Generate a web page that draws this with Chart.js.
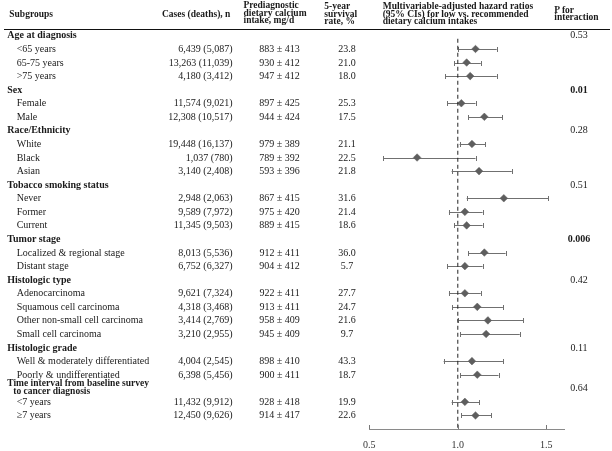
<!DOCTYPE html>
<html>
<head>
<meta charset="utf-8">
<script src="https://cdn.jsdelivr.net/npm/chart.js@4/dist/chart.umd.min.js"></script>
<style>
  html, body { margin: 0; padding: 0; background: #fff; }
  #wrap { position: relative; width: 612px; height: 451px; overflow: hidden;
          font-family: "Liberation Serif", "Times New Roman", serif; color: #1a1a1a; }
  #c { position: absolute; left: 0; top: 0; }
  .t { position: absolute; white-space: nowrap; font-size: 10px; line-height: 12px; }
  .b { font-weight: bold; }
  .h { position: absolute; white-space: nowrap; font-size: 9.5px; line-height: 7.6px; font-weight: bold; }
  #rule { position: absolute; left: 4px; top: 29px; width: 606px; height: 0; border-top: 1px solid #111; }
</style>
</head>
<body>
<div id="wrap">
  <canvas id="c" width="612" height="451"></canvas>
  <div id="rule"></div>
</div>
<script>
// ---- data ----
const subgroups = ["Age at diagnosis","<65 years","65-75 years",">75 years","Sex","Female","Male",
  "Race/Ethnicity","White","Black","Asian","Tobacco smoking status","Never","Former","Current",
  "Tumor stage","Localized & regional stage","Distant stage","Histologic type","Adenocarcinoma",
  "Squamous cell carcinoma","Other non-small cell carcinoma","Small cell carcinoma","Histologic grade",
  "Well & moderately differentiated","Poorly & undifferentiated",
  "Time interval from baseline survey|to cancer diagnosis","<7 years","≥7 years"];
const isGroup = [1,0,0,0,1,0,0,1,0,0,0,1,0,0,0,1,0,0,1,0,0,0,0,1,0,0,1,0,0];
const cases = ["","6,439 (5,087)","13,263 (11,039)","4,180 (3,412)","","11,574 (9,021)","12,308 (10,517)",
  "","19,448 (16,137)","1,037 (780)","3,140 (2,408)","","2,948 (2,063)","9,589 (7,972)","11,345 (9,503)",
  "","8,013 (5,536)","6,752 (6,327)","","9,621 (7,324)","4,318 (3,468)","3,414 (2,769)","3,210 (2,955)",
  "","4,004 (2,545)","6,398 (5,456)","","11,432 (9,912)","12,450 (9,626)"];
const calcium = ["","883 ± 413","930 ± 412","947 ± 412","","897 ± 425","944 ± 424",
  "","979 ± 389","789 ± 392","593 ± 396","","867 ± 415","975 ± 420","889 ± 415",
  "","912 ± 411","904 ± 412","","922 ± 411","913 ± 411","958 ± 409","945 ± 409",
  "","898 ± 410","900 ± 411","","928 ± 418","914 ± 417"];
const survival = ["","23.8","21.0","18.0","","25.3","17.5","","21.1","22.5","21.8","","31.6","21.4","18.6",
  "","36.0","5.7","","27.7","24.7","21.6","9.7","","43.3","18.7","","19.9","22.6"];
const hr   = [null,1.10,1.05,1.07,null,1.02,1.15,null,1.08,0.77,1.12,null,1.26,1.04,1.05,null,1.15,1.04,null,1.04,1.11,1.17,1.16,null,1.08,1.11,null,1.04,1.10];
const ciLo = [null,1.00,0.98,0.93,null,0.94,1.06,null,1.01,0.58,0.965,null,1.05,0.95,0.98,null,1.06,0.94,null,0.95,0.97,1.00,1.015,null,0.92,1.015,null,0.965,1.02];
const ciHi = [null,1.22,1.13,1.22,null,1.10,1.25,null,1.155,1.10,1.305,null,1.51,1.14,1.14,null,1.27,1.14,null,1.13,1.255,1.37,1.35,null,1.255,1.23,null,1.12,1.19];
const pInteraction = ["0.53","","","","0.01","","","0.28","","","","0.51","","","","0.006","","","0.42","","","","","0.11","","","0.64","",""];
const pBold = ["0.01","0.006"];
const xTicks = [0.5, 1.0, 1.5];

// ---- chart ----
const errorBars = {
  id: 'errorBars',
  beforeDatasetsDraw(chart) {
    const {ctx, scales: {x, y}} = chart;
    ctx.save();
    ctx.strokeStyle = '#707070';
    ctx.lineWidth = 1;
    hr.forEach((v, i) => {
      if (v == null) return;
      const py = Math.round(y.getPixelForValue(i)) + 0.5;
      const x1 = x.getPixelForValue(ciLo[i]), x2 = x.getPixelForValue(ciHi[i]);
      ctx.beginPath();
      ctx.moveTo(x1, py); ctx.lineTo(x2, py);
      ctx.moveTo(Math.round(x1) + 0.5, py - 2.5); ctx.lineTo(Math.round(x1) + 0.5, py + 2.5);
      ctx.moveTo(Math.round(x2) + 0.5, py - 2.5); ctx.lineTo(Math.round(x2) + 0.5, py + 2.5);
      ctx.stroke();
    });
    ctx.restore();
  },
  afterDraw(chart) {
    const {ctx, scales: {x}} = chart;
    ctx.save();
    ctx.strokeStyle = '#777';
    ctx.lineWidth = 1;
    xTicks.forEach(v => {
      const px = Math.round(x.getPixelForValue(v)) + 0.5;
      ctx.beginPath();
      ctx.moveTo(px, x.top - 4); ctx.lineTo(px, x.top);
      ctx.stroke();
    });
    ctx.restore();
  }
};

const pts = [];
hr.forEach((v, i) => { if (v != null) pts.push({x: v, y: i}); });

const chart = new Chart(document.getElementById('c'), {
  type: 'scatter',
  data: {
    datasets: [
      { type: 'line', data: [{x: 1, y: 0.25}, {x: 1, y: 29}], borderColor: '#222', borderWidth: 1,
        borderDash: [4, 3], pointRadius: 0, fill: false },
      { data: pts, pointStyle: 'rectRot', pointRadius: 3.8, pointHoverRadius: 3.8,
        backgroundColor: '#5e5e5e', borderColor: '#5e5e5e', borderWidth: 0.5 }
    ]
  },
  options: {
    responsive: false,
    animation: false,
    devicePixelRatio: 1,
    layout: { padding: { left: 369.3, right: 48, top: 28.6, bottom: 0 } },
    plugins: { legend: { display: false }, tooltip: { enabled: false } },
    scales: {
      x: {
        type: 'linear', min: 0.5, max: 1.6, position: 'bottom',
        afterBuildTicks: (axis) => { axis.ticks = xTicks.map(v => ({value: v})); },
        afterFit: (scale) => { scale.height = 22; },
        grid: { display: true, drawOnChartArea: false, drawTicks: false, color: 'rgba(0,0,0,0)' },
        border: { display: true, color: '#8a8a8a', width: 1 },
        ticks: { padding: 10, color: '#333', font: { family: '"Liberation Serif", serif', size: 10 },
                 callback: (v) => Number(v).toFixed(1), maxRotation: 0 }
      },
      y: { type: 'linear', reverse: true, min: -0.5, max: 29, display: false }
    }
  },
  plugins: [errorBars]
});

// ---- text ----
const wrap = document.getElementById('wrap');
function addText(txt, left, cy, cls, align) {
  const d = document.createElement('div');
  d.className = 't ' + (cls || '');
  d.textContent = txt;
  d.style.top = (cy - 6) + 'px';
  if (align === 'right') { d.style.right = (612 - left) + 'px'; }
  else if (align === 'center') { d.style.left = (left - 50) + 'px'; d.style.width = '100px'; d.style.textAlign = 'center'; }
  else d.style.left = left + 'px';
  wrap.appendChild(d);
  return d;
}
function addHeader(lines, left, firstCy) {
  const d = document.createElement('div');
  d.className = 'h';
  d.innerHTML = lines.map(s => s.replace(/&/g,'&amp;').replace(/</g,'&lt;')).join('<br>');
  d.style.left = left + 'px';
  d.style.top = (firstCy - 3.8) + 'px';
  wrap.appendChild(d);
}
addHeader(["Subgroups"], 9.3, 15);
addHeader(["Cases (deaths), n"], 162, 15);
addHeader(["Prediagnostic", "dietary calcium", "intake, mg/d"], 243.5, 6);
addHeader(["5-year", "survival", "rate, %"], 324.3, 7);
addHeader(["Multivariable-adjusted hazard ratios", "(95% CIs) for low vs. recommended", "dietary calcium intakes"], 382.7, 7);
addHeader(["P for", "interaction"], 554.3, 10.5);

const ys = chart.scales.y;
subgroups.forEach((s, i) => {
  const cy = ys.getPixelForValue(i);
  if (isGroup[i]) {
    const parts = s.split('|');
    if (parts.length > 1) {
      addHeader([parts[0]], 7.3, cy - 4);
      addHeader([parts[1]], 13.3, cy + 3.2);
    } else addText(s, 7.3, cy, 'b');
  } else addText(s, 16.7, cy);
  if (cases[i]) addText(cases[i], 232.5, cy, '', 'right');
  if (calcium[i]) addText(calcium[i], 299.7, cy, '', 'right');
  if (survival[i]) addText(survival[i], 347, cy, '', 'center');
  if (pInteraction[i]) addText(pInteraction[i], 579, cy - (i === 0 ? 0.5 : 0), pBold.includes(pInteraction[i]) ? 'b' : '', 'center');
});
</script>
</body>
</html>
